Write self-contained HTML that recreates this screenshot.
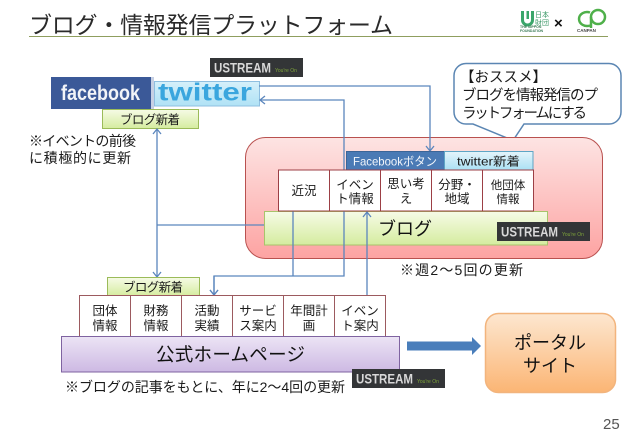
<!DOCTYPE html>
<html lang="ja"><head><meta charset="utf-8"><style>
html,body{margin:0;padding:0;background:#fff;width:638px;height:442px;overflow:hidden}
svg{display:block}
text{font-family:"Liberation Sans","Noto Sans CJK JP",sans-serif;fill:#1a1a1a}
</style></head><body>
<svg width="638" height="442" viewBox="0 0 638 442" xmlns="http://www.w3.org/2000/svg">
<defs>
<linearGradient id="red" x1="0" y1="0" x2="0" y2="1"><stop offset="0" stop-color="#fde4e3"/><stop offset="1" stop-color="#fda3a2"/></linearGradient>
<linearGradient id="green" x1="0" y1="0" x2="0" y2="1"><stop offset="0" stop-color="#f6fbe6"/><stop offset="1" stop-color="#d5ec9f"/></linearGradient>
<linearGradient id="purple" x1="0" y1="0" x2="0" y2="1"><stop offset="0" stop-color="#ece4f5"/><stop offset="1" stop-color="#cdb9e3"/></linearGradient>
<linearGradient id="orange" x1="0" y1="0" x2="0" y2="1"><stop offset="0" stop-color="#fde7d0"/><stop offset="1" stop-color="#fbb574"/></linearGradient>
<linearGradient id="blue" x1="0" y1="0" x2="0" y2="1"><stop offset="0" stop-color="#e4f4fb"/><stop offset="1" stop-color="#a9e0f4"/></linearGradient>
<linearGradient id="tw" x1="0" y1="0" x2="0" y2="1"><stop offset="0" stop-color="#d5f0fa"/><stop offset="1" stop-color="#b0e2f5"/></linearGradient>
<g id="ust"><rect width="93" height="19" fill="#333537"/><text x="4" y="14.500" font-size="14" font-weight="bold" textLength="57" lengthAdjust="spacingAndGlyphs" style="fill:#d8d8d8">USTREAM</text><text x="65" y="14" font-size="5" style="fill:#7fa53a">You're On</text></g>
</defs>

<!-- Title -->
<text x="29" y="33" font-size="23" textLength="364" lengthAdjust="spacing" style="fill:#2a2a2a">ブログ・情報発信プラットフォーム</text>
<rect x="29" y="36" width="579" height="1" fill="#8f9e5e"/>

<!-- Logos -->
<path d="M521 11v9a6.500 6.500 0 0 0 13 0v-9h-3v9a3.500 3.500 0 0 1-7 0v-9z" fill="#3aa66a"/>
<rect x="526.500" y="11" width="2.500" height="8" fill="#3aa66a"/>
<text x="535" y="17" font-size="7" style="fill:#3f9a6a">日本</text>
<text x="535" y="25" font-size="7" style="fill:#3f9a6a">財団</text>
<text x="520" y="28" font-size="3.500" font-weight="bold" style="fill:#3a7a55">THE NIPPON</text>
<text x="520" y="32" font-size="3.500" font-weight="bold" style="fill:#3a7a55">FOUNDATION</text>
<text x="554" y="28" font-size="15" font-weight="bold" style="fill:#111">×</text>
<path d="M590 12.500a8 7 0 1 0 0 13" fill="none" stroke="#4fb04a" stroke-width="2.500"/>
<circle cx="598" cy="17" r="7" fill="none" stroke="#4fb04a" stroke-width="2.500"/>
<path d="M591 17v11" stroke="#4fb04a" stroke-width="2.500"/>
<text x="577" y="32" font-size="4.500" font-weight="bold" style="fill:#444">CANPAN</text>

<!-- Social -->
<use href="#ust" x="210" y="58"/>
<rect x="51" y="77" width="100" height="32" fill="#3b5998"/>
<rect x="151" y="77" width="3" height="32" fill="#c6d0e4"/>
<text x="61" y="100" font-size="21" font-weight="bold" textLength="79" lengthAdjust="spacingAndGlyphs" style="fill:#f2f4f8">facebook</text>
<rect x="154.500" y="81.500" width="105" height="24.500" fill="url(#tw)" stroke="#8fbfe0"/>
<text x="158" y="100.500" font-size="25" font-weight="bold" textLength="94" lengthAdjust="spacingAndGlyphs" style="fill:#3aa6de">twitter</text>

<rect x="102.500" y="109.500" width="96" height="19" fill="url(#green)" stroke="#9bbb59"/>
<text x="150" y="124" font-size="12.500" text-anchor="middle" textLength="60">ブログ新着</text>

<text x="29" y="146" font-size="14" textLength="107">※イベントの前後</text>
<text x="29" y="163" font-size="14" textLength="102">に積極的に更新</text>

<!-- Callout -->
<path d="M466 63.500H609a12 12 0 0 1 12 12V112a12 12 0 0 1-12 12H524L513 140.500L473 124H466a12 12 0 0 1-12-12V75.500a12 12 0 0 1 12-12z" fill="#fff" stroke="#5b86b3" stroke-width="1.500"/>
<text x="460" y="82" font-size="14.500">【おススメ】</text>
<text x="462" y="100" font-size="14.500" textLength="136">ブログを情報発信のプ</text>
<text x="462" y="118" font-size="14.500" textLength="125">ラットフォームにする</text>

<!-- Blog area -->
<rect x="245.500" y="137.500" width="357" height="121" rx="20" fill="url(#red)" stroke="#b9514f" stroke-width="1"/>
<rect x="264.500" y="211.500" width="283" height="33.500" fill="url(#green)" stroke="#a8c46b"/>
<text x="405" y="235" font-size="18" text-anchor="middle" style="fill:#111">ブログ</text>
<use href="#ust" x="497" y="222"/>
<text x="400" y="275" font-size="14" textLength="123">※週2～5回の更新</text>

<!-- Connectors -->
<g fill="none" stroke="#5b86bd" stroke-width="1.300">
<path d="M259 86H430V150"/>
<path d="M426 146l4 5l4-5"/>
<path d="M260 100H344V276H214V294"/>
<path d="M265 96l-5 4l5 4"/>
<path d="M210 290l4 5l4-5"/>
<path d="M293 211V276"/>
<path d="M264 225H157"/>
<path d="M157 129V277"/>
<path d="M153 134l4-5l4 5"/>
<path d="M153 272l4 5l4-5"/>
<path d="M367 295V212"/>
<path d="M363 217l4-5l4 5"/>
</g>

<!-- Blog tabs and cells above connectors -->
<rect x="346.500" y="151.500" width="98" height="19" fill="#4a7ab5" stroke="#3c6597"/>
<text x="353" y="165.500" font-size="12" textLength="84" lengthAdjust="spacingAndGlyphs" style="fill:#f2f6fb">Facebookボタン</text>
<rect x="444.500" y="151.500" width="88.500" height="19" fill="url(#blue)" stroke="#5ea5c5"/>
<text x="457" y="165.500" font-size="12" textLength="63" lengthAdjust="spacingAndGlyphs">twitter新着</text>
<g fill="#fff" stroke="#9c3f45" stroke-width="1">
<rect x="278.500" y="170" width="51" height="41"/><rect x="329.500" y="170" width="51" height="41"/><rect x="380.500" y="170" width="51" height="41"/><rect x="431.500" y="170" width="51" height="41"/><rect x="482.500" y="170" width="51" height="41"/>
</g>
<g font-size="12.500" text-anchor="middle">
<text x="304" y="195">近況</text>
<text x="355" y="189">イベン</text><text x="355" y="203">ト情報</text>
<text x="406" y="188">思い考</text><text x="406" y="203">え</text>
<text x="457" y="189">分野・</text><text x="457" y="203">地域</text>
<text x="508" y="189" font-size="11.500">他団体</text><text x="508" y="203" font-size="11.500">情報</text>
</g>

<!-- Homepage -->
<rect x="107.500" y="277.500" width="92" height="18.500" fill="url(#green)" stroke="#9bbb59"/>
<text x="153" y="291.500" font-size="12.500" text-anchor="middle" textLength="60">ブログ新着</text>
<path d="M210 290l4 5l4-5M214 276V295" fill="none" stroke="#5b86bd" stroke-width="1.300"/>
<g fill="#fff" stroke="#9c5a5f" stroke-width="1">
<rect x="79.500" y="295.500" width="51" height="41"/><rect x="130.500" y="295.500" width="51" height="41"/><rect x="181.500" y="295.500" width="51" height="41"/><rect x="232.500" y="295.500" width="51" height="41"/><rect x="283.500" y="295.500" width="51" height="41"/><rect x="334.500" y="295.500" width="51" height="41"/>
</g>
<g font-size="12.500" text-anchor="middle">
<text x="105" y="315">団体</text><text x="105" y="330">情報</text>
<text x="156" y="315">財務</text><text x="156" y="330">情報</text>
<text x="207" y="315">活動</text><text x="207" y="330">実績</text>
<text x="258" y="315">サービ</text><text x="258" y="330">ス案内</text>
<text x="309" y="315">年間計</text><text x="309" y="330">画</text>
<text x="360" y="315">イベン</text><text x="360" y="330">ト案内</text>
</g>
<rect x="61.500" y="336.500" width="338" height="35.500" fill="url(#purple)" stroke="#7f63a1"/>
<text x="156" y="361" font-size="18.500" textLength="149" style="fill:#111">公式ホームページ</text>
<text x="65" y="392" font-size="14" textLength="280">※ブログの記事をもとに、年に2～4回の更新</text>
<use href="#ust" x="352" y="369"/>

<!-- Big arrow + portal -->
<path d="M407 341.500H472V337L481 346L472 355V350.500H407z" fill="#4a7ebb"/>
<rect x="485.500" y="313.500" width="130" height="79" rx="13" fill="url(#orange)" stroke="#f2b47d" stroke-width="1.500"/>
<text x="550" y="349" font-size="18" text-anchor="middle" style="fill:#111">ポータル</text>
<text x="550" y="372" font-size="18" text-anchor="middle" style="fill:#111">サイト</text>

<text x="603" y="429" font-size="15" style="fill:#555">25</text>
</svg>
</body></html>
